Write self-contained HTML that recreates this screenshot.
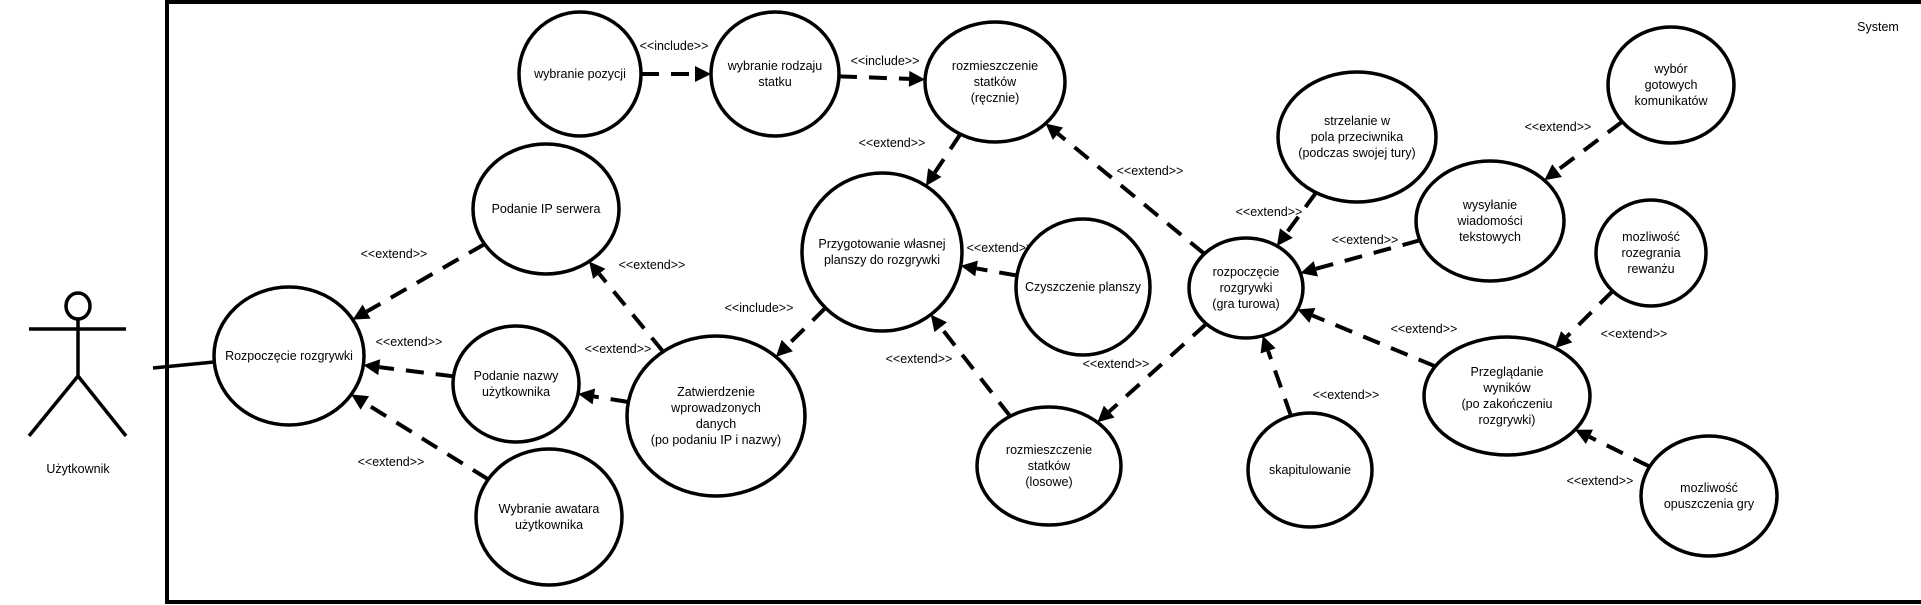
<!DOCTYPE html>
<html><head><meta charset="utf-8"><style>
html,body{margin:0;padding:0;background:#fff;width:1921px;height:605px;overflow:hidden}
svg{display:block}
text{font-family:"Liberation Sans",sans-serif;font-size:12.5px;fill:#000}
</style></head><body>
<svg id="s" width="1921" height="605" xmlns="http://www.w3.org/2000/svg">
<rect x="167" y="2" width="1760" height="600" fill="none" stroke="#000" stroke-width="4"/>
<text x="1878" y="31" text-anchor="middle">System</text>
<g stroke="#000" stroke-width="3.5" fill="none">
<ellipse cx="78" cy="306" rx="12" ry="13"/>
<line x1="78" y1="319" x2="78" y2="376"/>
<line x1="29" y1="329" x2="126" y2="329"/>
<line x1="78" y1="376" x2="29" y2="436"/>
<line x1="78" y1="376" x2="126" y2="436"/>
<line x1="153" y1="368" x2="214" y2="362"/>
</g>
<text x="78" y="473" text-anchor="middle">Użytkownik</text>
<g id="edges"></g>
<g id="nodes"></g>
</svg>
<script>
var N={
poz:[580,74,61,62,["wybranie pozycji"]],
rodz:[775,74,64,62,["wybranie rodzaju","statku"]],
rec:[995,82,70,60,["rozmieszczenie","statków","(ręcznie)"]],
ip:[546,209,73,65,["Podanie IP serwera"]],
roz:[289,356,75,69,["Rozpoczęcie rozgrywki"]],
naz:[516,384,63,58,["Podanie nazwy","użytkownika"]],
awa:[549,517,73,68,["Wybranie awatara","użytkownika"]],
zat:[716,416,89,80,["Zatwierdzenie","wprowadzonych","danych","(po podaniu IP i nazwy)"]],
prz:[882,252,80,79,["Przygotowanie własnej","planszy do rozgrywki"]],
czy:[1083,287,67,68,["Czyszczenie planszy"]],
los:[1049,466,72,59,["rozmieszczenie","statków","(losowe)"]],
tur:[1246,288,57,50,["rozpoczęcie","rozgrywki","(gra turowa)"]],
str:[1357,137,79,65,["strzelanie w","pola przeciwnika","(podczas swojej tury)"]],
wys:[1490,221,74,60,["wysyłanie","wiadomości","tekstowych"]],
got:[1671,85,63,58,["wybór","gotowych","komunikatów"]],
rew:[1651,253,55,53,["mozliwość","rozegrania","rewanżu"]],
wyn:[1507,396,83,59,["Przeglądanie","wyników","(po zakończeniu","rozgrywki)"]],
kap:[1310,470,62,57,["skapitulowanie"]],
opu:[1709,496,68,60,["mozliwość","opuszczenia gry"]]
};
var E=[
["poz","rodz","<<include>>",674,50],
["rodz","rec","<<include>>",885,65],
["rec","prz","<<extend>>",892,147],
["ip","roz","<<extend>>",394,258],
["zat","ip","<<extend>>",652,269],
["naz","roz","<<extend>>",409,346],
["zat","naz","<<extend>>",618,353],
["awa","roz","<<extend>>",391,466],
["prz","zat","<<include>>",759,312],
["czy","prz","<<extend>>",1000,252],
["los","prz","<<extend>>",919,363],
["tur","rec","<<extend>>",1150,175],
["tur","los","<<extend>>",1116,368],
["str","tur","<<extend>>",1269,216],
["wys","tur","<<extend>>",1365,244],
["got","wys","<<extend>>",1558,131],
["wyn","tur","<<extend>>",1424,333],
["kap","tur","<<extend>>",1346,399],
["rew","wyn","<<extend>>",1634,338],
["opu","wyn","<<extend>>",1600,485]
];
var NS="http://www.w3.org/2000/svg";
function el(t,a,p,txt){var e=document.createElementNS(NS,t);for(var k in a)e.setAttribute(k,a[k]);if(txt)e.textContent=txt;p.appendChild(e);return e;}
function clip(n,dx,dy){var t=1/Math.sqrt((dx*dx)/(n[2]*n[2])+(dy*dy)/(n[3]*n[3]));return [n[0]+dx*t,n[1]+dy*t];}
var ge=document.getElementById("edges"),gn=document.getElementById("nodes");
E.forEach(function(e){var a=N[e[0]],b=N[e[1]];var dx=b[0]-a[0],dy=b[1]-a[1];
var p=clip(a,dx,dy),q=clip(b,-dx,-dy);var L=Math.hypot(q[0]-p[0],q[1]-p[1]);var ux=(q[0]-p[0])/L,uy=(q[1]-p[1])/L;
var bx=q[0]-ux*16,by=q[1]-uy*16;
el("line",{x1:p[0],y1:p[1],x2:bx,y2:by,stroke:"#000","stroke-width":4,"stroke-dasharray":"18 12"},ge);
el("polygon",{points:q[0]+","+q[1]+" "+(bx-uy*8)+","+(by+ux*8)+" "+(bx+uy*8)+","+(by-ux*8),fill:"#000"},ge);
el("text",{x:e[3],y:e[4],"text-anchor":"middle"},ge,e[2]);});
for(var k in N){var n=N[k];el("ellipse",{cx:n[0],cy:n[1],rx:n[2],ry:n[3],fill:"#fff",stroke:"#000","stroke-width":3.5},gn);
var ls=n[4],h=16,y0=n[1]-(ls.length-1)*h/2+4;ls.forEach(function(s,i){el("text",{x:n[0],y:y0+i*h,"text-anchor":"middle"},gn,s);});}
</script>
</body></html>
